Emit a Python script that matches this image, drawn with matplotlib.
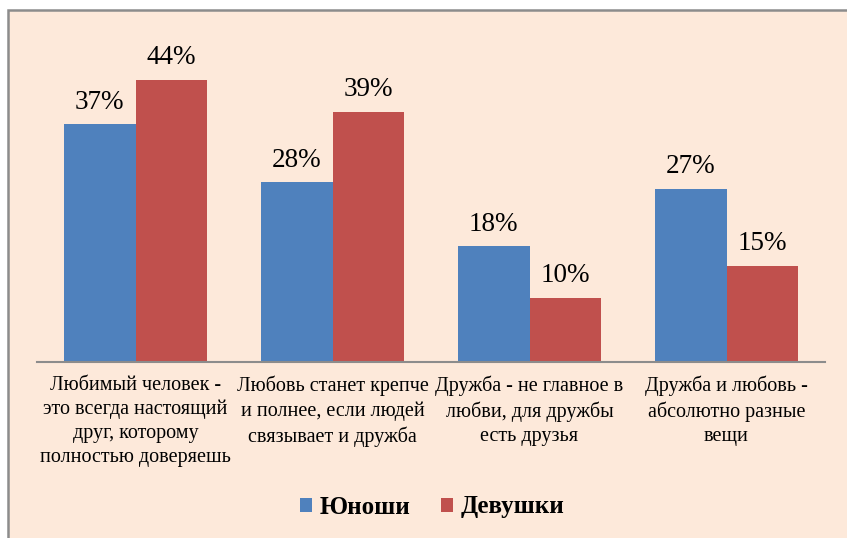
import numpy as np
import matplotlib.pyplot as plt
from matplotlib.patches import Rectangle

categories = [
    "Любимый человек -\nэто всегда настоящий\nдруг, которому\nполностью доверяешь",
    "Любовь станет крепче\nи полнее, если людей\nсвязывает и дружба",
    "Дружба - не главное в\nлюбви, для дружбы\nесть друзья",
    "Дружба и любовь -\nабсолютно разные\nвещи",
]
boys = [37, 28, 18, 27]
girls = [44, 39, 10, 15]
series_names = ["Юноши", "Девушки"]

plt.rcParams['font.family'] = ['Liberation Serif', 'DejaVu Serif']

W, H = 847, 538
fig = plt.figure(figsize=(W/100, H/100), dpi=100)
fig.patch.set_facecolor("white")
fig.patches.append(Rectangle((8/W, -0.01), 1.0, (H-9.5)/H + 0.01, transform=fig.transFigure,
                             facecolor="#FDE9DA", edgecolor="#8C8C8C", lw=1.8, zorder=-5))

ax = fig.add_axes([37/W, (H-362)/H, (825-37)/W, (362-41)/H])
ax.set_facecolor("none")

x = np.arange(len(categories))
w = 0.365
b1 = ax.bar(x - w/2, boys, w, color="#4F81BD", label=series_names[0])
b2 = ax.bar(x + w/2, girls, w, color="#C0504D", label=series_names[1])

for bars in (b1, b2):
    for r in bars:
        ax.annotate(f"{r.get_height():.0f}%", (r.get_x() + r.get_width()/2, r.get_height()),
                    xytext=(0, 7), textcoords="offset points", ha="center", va="bottom",
                    fontsize=19.5)

ax.set_xlim(-0.5, len(categories) - 0.5)
ax.set_ylim(0, 50)
ax.set_xticks(x)
ax.set_xticklabels(categories, fontsize=14.5, linespacing=1.35)
ax.tick_params(axis="x", length=0, pad=10)
ax.set_yticks([])
for s in ("top", "right", "left"):
    ax.spines[s].set_visible(False)
ax.spines["bottom"].set_color("#8C8C8C")
ax.spines["bottom"].set_linewidth(1.5)

fig.legend(handles=[b1, b2], loc="center", bbox_to_anchor=(432/W, 1 - 507/H), ncol=2,
           frameon=False, prop={"weight": "bold", "size": 18}, handlelength=0.5,
           handleheight=0.5, handletextpad=0.3, columnspacing=1.2)

fig.savefig("out.png", dpi=100)
